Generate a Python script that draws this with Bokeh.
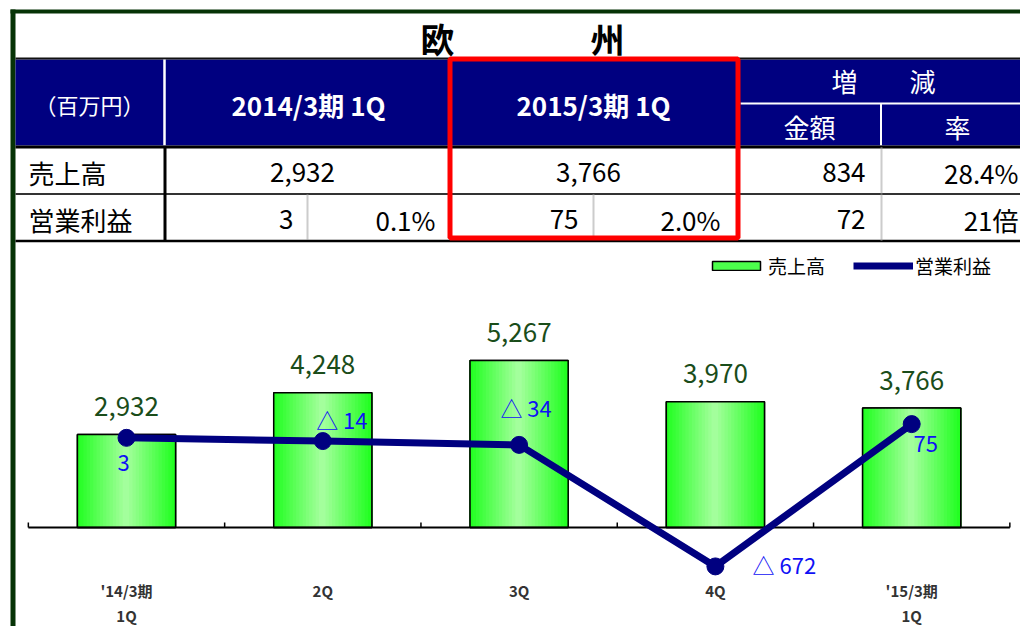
import numpy as np
from bokeh.plotting import figure
from bokeh.models import Range1d, ColumnDataSource, Legend, LegendItem
from bokeh.transform import dodge
from bokeh.core.properties import value
from bokeh.embed import file_html
from bokeh.resources import INLINE

# ---------------- data ----------------
title = "欧　　　　州"
unit_label = "（百万円）"
period_prev = "2014/3期 1Q"
period_curr = "2015/3期 1Q"
change_head = "増　　減"
change_sub = ["金額", "率"]
row_labels = ["売上高", "営業利益"]
sales_row = ["2,932", "3,766", "834", "28.4%"]
profit_row = ["3", "0.1%", "75", "2.0%", "72", "21倍"]

categories = ["'14/3期\n1Q", "2Q", "3Q", "4Q", "'15/3期\n1Q"]
sales = [2932, 4248, 5267, 3970, 3766]
profit = [3, -14, -34, -672, 75]
legend_labels = ["売上高", "営業利益"]

# ---------------- layout / style ----------------
W, H = 1020, 626
FONT = "Noto Sans CJK JP"
NAVY = "#000080"
DKGREEN = "#063306"

X0_PX, X_STEP = 126.0, 196.3        # first category centre, px per category
BASE_PX, SALES_K = 527.0, 0.0317    # sales zero line (px), px per unit
PZERO_PX, PROFIT_K = 437.9, 0.1905  # profit zero line (px), px per unit

cat_start = -X0_PX / X_STEP
cat_end = cat_start + W / X_STEP
sales_end = BASE_PX / SALES_K
sales_start = -(H - BASE_PX) / SALES_K
profit_end = PZERO_PX / PROFIT_K
profit_start = -(H - PZERO_PX) / PROFIT_K

p = figure(width=W, height=H, x_range=Range1d(0, W), y_range=Range1d(H, 0),
           output_backend="svg", toolbar_location=None,
           x_axis_location=None, y_axis_location=None, min_border=0)
p.extra_x_ranges = {"cat": Range1d(cat_start, cat_end)}
p.extra_y_ranges = {"sales": Range1d(sales_start, sales_end),
                    "profit": Range1d(profit_start, profit_end)}
p.grid.visible = False
p.outline_line_color = None
p.background_fill_color = "white"
p.border_fill_color = "white"

# ---------------- table ----------------
p.quad(left=[10, 10], right=[1030, 15], top=[9, 9], bottom=[13, 640],
       fill_color=DKGREEN, line_color=None)
p.quad(left=[15], right=[1030], top=[59], bottom=[145], fill_color=NAVY, line_color=None)

def seg(x0, y0, x1, y1, color, width, dash="solid"):
    p.segment(x0=x0, y0=y0, x1=x1, y1=y1, line_color=color, line_width=width, line_dash=dash)

seg([15], [58], [1030], [58], "#111111", 2)
seg([164], [59], [164], [145], "white", 2.5)
seg([740], [103], [1030], [103], "white", 2)
seg([880.5], [103], [880.5], [145], "white", 2)
seg([15], [146.5], [1030], [146.5], "black", 3)
seg([15], [193.5], [1030], [193.5], "#333333", 2)
seg([15], [240.5], [1030], [240.5], "black", 2.5)
seg([164.5], [146], [164.5], [241], "black", 3)
seg([307, 593], [194, 194], [307, 593], [240, 240], "#999999", 2, "1 1")
seg([881], [147], [881], [240], "#999999", 2, "1 1")

def txt(x, y, t, size, color="black", align="center", weight="normal"):
    p.text(x=x, y=y, text=t, text_font=value(FONT), text_font_size=size,
           text_color=color, text_align=align, text_baseline="middle",
           text_font_style=weight)

txt([522], [38], [title], "34px", weight="bold")
txt([89], [103], [unit_label], "22px", color="white")
txt([308, 593], [104, 104], [period_prev, period_curr], "26px", color="white", weight="bold")
txt([883], [80], [change_head], "26px", color="white")
txt([809, 957], [126, 126], change_sub, "26px", color="white")
txt([28, 28], [172, 219], row_labels, "26px", align="left")
txt([302, 588], [172, 172], sales_row[:2], "26px")
txt([865, 1018], [172, 172], sales_row[2:], "26px", align="right")
txt([293, 435, 578, 720, 865, 1018], [219] * 6, profit_row, "26px", align="right")

# red highlight box
p.quad(left=[449.5], right=[737.5], top=[58.5], bottom=[237.5],
       fill_color=None, line_color="#FF0000", line_width=5)

# ---------------- chart ----------------
idx = list(range(len(categories)))
cat_l1 = [c.split("\n")[0] for c in categories]
cat_l2 = [c.split("\n")[1] if "\n" in c else "" for c in categories]
src = ColumnDataSource(dict(
    x=idx, sales=sales, profit=profit,
    sales_lbl=[f"{v:,}" for v in sales],
    profit_lbl=[(f"△ {abs(v)}" if v < 0 else f"{v}") for v in profit],
    l1=cat_l1, l2=cat_l2,
))
CK = dict(x_range_name="cat", y_range_name="sales")

BW = 0.5
bar_base = p.vbar(x="x", top="sales", width=BW, source=src, fill_color="#4CFF4C",
                  line_color="black", line_width=1.5, **CK)
N = 30
edge = np.array([0x1E, 0xFF, 0x1E])
mid = np.array([0xA8, 0xFF, 0xA0])
for i in range(N):
    off = -BW / 2 + (i + 0.5) * BW / N
    t = abs(off) / (BW / 2)
    c = (mid + (edge - mid) * t).round().astype(int)
    p.vbar(x=dodge("x", off), top="sales", width=BW / N * 1.35, source=src,
           fill_color="#%02x%02x%02x" % tuple(c), line_color=None, **CK)
p.vbar(x="x", top="sales", width=BW, source=src, fill_color=None,
       line_color="black", line_width=1.5, **CK)

# baseline + ticks
n = len(categories)
p.segment(x0=[-0.5], y0=[0], x1=[n - 0.5], y1=[0], line_color="black", line_width=2, **CK)
tx = list(np.arange(n + 1) - 0.5)
p.segment(x0=tx, y0=[0] * (n + 1), x1=tx, y1=[5 / SALES_K] * (n + 1),
          line_color="black", line_width=1.5, **CK)

# category labels
for col, dy in (("l1", 63), ("l2", 88)):
    p.text(x="x", y=0, text=col, source=src, y_offset=dy, text_font=value(FONT),
           text_font_size="15px", text_font_style="bold", text_color="#333333",
           text_align="center", text_baseline="middle", **CK)

# sales labels
p.text(x="x", y="sales", text="sales_lbl", source=src, y_offset=-28,
       text_font=value(FONT), text_font_size="26px", text_color="#1a4d1a",
       text_align="center", text_baseline="middle", **CK)

# profit line
PK = dict(x_range_name="cat", y_range_name="profit")
line_r = p.line(x="x", y="profit", source=src, line_color=NAVY, line_width=7, **PK)
circ_r = p.scatter(x="x", y="profit", source=src, size=17, fill_color=NAVY,
                   line_color=NAVY, **PK)
# profit label placement offsets (px)
src.data["ldx"] = [-3, 19, 7, 69, 14]
src.data["ldy"] = [25, -22, -38, -2, 20]
p.text(x="x", y="profit", text="profit_lbl", source=src, x_offset="ldx", y_offset="ldy",
       text_font=value(FONT), text_font_size="22px", text_color="#1010f5",
       text_align="center", text_baseline="middle", **PK)

legend = Legend(items=[LegendItem(label=legend_labels[0], renderers=[bar_base]),
                       LegendItem(label=legend_labels[1], renderers=[line_r, circ_r])],
                orientation="horizontal", location=(706, H - 279),
                glyph_width=60, glyph_height=11, label_height=20, label_standoff=2,
                spacing=28, padding=0, margin=0, border_line_color=None,
                background_fill_alpha=0, label_text_font=FONT,
                label_text_font_size="19px", label_text_color="black")
p.add_layout(legend)

open("out.html", "w").write(file_html(p, INLINE))
